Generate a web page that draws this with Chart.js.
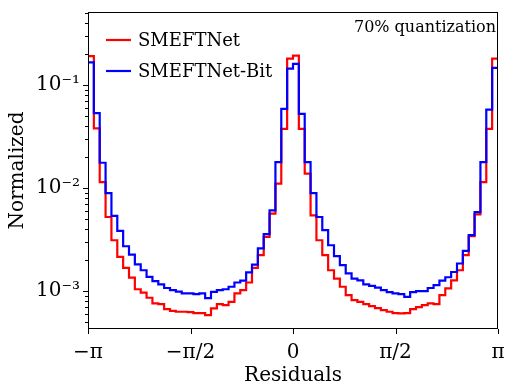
<!DOCTYPE html>
<html><head><meta charset="utf-8">
<script src="https://cdn.jsdelivr.net/npm/chart.js@4.4.1/dist/chart.umd.min.js"></script>
<style>html,body{margin:0;padding:0;background:#fff;overflow:hidden}</style>
</head><body>
<canvas id="c" width="521" height="391"></canvas>
<script>
// ---- data ----
const binCount = 70;
const xMin = -Math.PI, xMax = Math.PI;
const binEdges = Array.from({length: binCount + 1}, (_, i) => xMin + i * (xMax - xMin) / binCount);
const seriesNames = ['SMEFTNet', 'SMEFTNet-Bit'];
const smeftnet = [
  0.190, 0.0378, 0.0114, 0.00523, 0.00311, 0.00214, 0.00168, 0.00135, 0.00104, 0.000965,
  0.000860, 0.000759, 0.000747, 0.000668, 0.000643, 0.000629, 0.000629, 0.000625, 0.000611, 0.000611,
  0.000584, 0.000678, 0.000747, 0.000730, 0.000786, 0.000948, 0.00102, 0.00121, 0.00168, 0.00223,
  0.00335, 0.00564, 0.0110, 0.0375, 0.1797, 0.1921, 0.0375, 0.01375, 0.00543, 0.00311,
  0.00223, 0.00159, 0.00132, 0.00110, 0.000913, 0.000817, 0.000786, 0.000747, 0.000714, 0.000683,
  0.000653, 0.000629, 0.000611, 0.000607, 0.000611, 0.000668, 0.000698, 0.000730, 0.000759, 0.000747,
  0.000913, 0.00106, 0.00127, 0.00159, 0.00223, 0.00340, 0.00555, 0.0114, 0.0375, 0.1797
];
const smeftnetBit = [
  0.1655, 0.0533, 0.01757, 0.00892, 0.00535, 0.00383, 0.00272, 0.00226, 0.00181, 0.00159,
  0.00137, 0.00125, 0.00116, 0.00107, 0.00102, 0.000987, 0.000948, 0.000948, 0.000933, 0.000948,
  0.000854, 0.000982, 0.00102, 0.00104, 0.00110, 0.00121, 0.00126, 0.00152, 0.00180, 0.00259,
  0.00356, 0.00607, 0.01781, 0.0586, 0.1438, 0.1597, 0.0524, 0.01781, 0.00892, 0.00523,
  0.00389, 0.00278, 0.00218, 0.00178, 0.00148, 0.00132, 0.00127, 0.00116, 0.00112, 0.00108,
  0.00102, 0.000975, 0.000948, 0.000933, 0.000879, 0.000975, 0.000998, 0.000998, 0.00107, 0.00114,
  0.00126, 0.00136, 0.00153, 0.00185, 0.00245, 0.00348, 0.00584, 0.01781, 0.0577, 0.1461
];
const xTickValues = [-Math.PI, -Math.PI / 2, 0, Math.PI / 2, Math.PI];
const xTickLabels = ['−π', '−π/2', '0', 'π/2', 'π'];
const yTickValues = [1e-3, 1e-2, 1e-1];
const yTickLabels = ['10⁻³', '10⁻²', '10⁻¹'];
const yMin = 4.28e-4, yMax = 0.51;
const annotationText = '70% quantization';
const xTitle = 'Residuals';
const yTitle = 'Normalized';
const colors = ['#ff0000', '#0000ff'];

const FONT = "'DejaVu Serif', serif";

function toSteps(vals) {
  const pts = vals.map((v, i) => ({x: binEdges[i], y: v}));
  pts.push({x: binEdges[binCount], y: vals[binCount - 1]});
  return pts;
}

const decorPlugin = {
  id: 'decor',
  afterDatasetsDraw(chart) {
    const {ctx, chartArea: a, scales: {x, y}} = chart;
    ctx.save();
    ctx.strokeStyle = '#000';
    ctx.lineWidth = 1;
    ctx.strokeRect(a.left + 0.5, a.top + 0.5, a.right - a.left - 1, a.bottom - a.top - 1);
    ctx.beginPath();
    xTickValues.forEach(v => {
      const px = Math.round(x.getPixelForValue(v)) + 0.5;
      ctx.moveTo(px, a.bottom); ctx.lineTo(px, a.bottom + 5);
    });
    for (let e = -4; e <= 0; e++) {
      for (let m = 1; m <= 9; m++) {
        const v = m * Math.pow(10, e);
        if (v < y.min || v > y.max) continue;
        const py = Math.round(y.getPixelForValue(v)) + 0.5;
        const len = m === 1 ? 5 : 3;
        ctx.moveTo(a.left, py); ctx.lineTo(a.left - len, py);
      }
    }
    ctx.stroke();
    // legend
    const ly = [40, 71];
    ctx.font = '18px ' + FONT;
    ctx.textBaseline = 'middle';
    ctx.fillStyle = '#000';
    seriesNames.forEach((n, i) => {
      ctx.strokeStyle = colors[i];
      ctx.lineWidth = 2.2;
      ctx.beginPath(); ctx.moveTo(a.left + 18, ly[i]); ctx.lineTo(a.left + 43, ly[i]); ctx.stroke();
      ctx.fillText(n, a.left + 50, ly[i] + 1);
    });
    // annotation
    ctx.font = '16px ' + FONT;
    ctx.textAlign = 'right';
    ctx.fillText(annotationText, a.right - 2, 28);
    ctx.restore();
  }
};

new Chart(document.getElementById('c'), {
  type: 'line',
  data: {
    datasets: [
      {label: seriesNames[1], data: toSteps(smeftnetBit), borderColor: colors[1], borderWidth: 2.2, stepped: true, pointRadius: 0, fill: false, order: 0},
      {label: seriesNames[0], data: toSteps(smeftnet), borderColor: colors[0], borderWidth: 2.2, stepped: true, pointRadius: 0, fill: false, order: 1}
    ]
  },
  options: {
    responsive: false,
    devicePixelRatio: 1,
    animation: false,
    layout: {padding: {left: 0, right: 23, top: 12, bottom: 0}},
    plugins: {legend: {display: false}, tooltip: {enabled: false}},
    scales: {
      x: {
        type: 'linear', min: xMin, max: xMax,
        grid: {display: false, drawTicks: false},
        border: {display: false},
        afterBuildTicks: s => { s.ticks = xTickValues.map(v => ({value: v})); },
        afterFit: s => { s.height = 62; s.paddingLeft = 0; s.paddingRight = 0; },
        ticks: {
          autoSkip: false, maxRotation: 0, padding: 12, color: '#000',
          font: {family: FONT, size: 20},
          callback: (v) => { const i = xTickValues.findIndex(t => Math.abs(t - v) < 1e-9); return i >= 0 ? xTickLabels[i] : ''; }
        },
        title: {display: true, text: xTitle, color: '#000', font: {family: FONT, size: 20}, padding: {top: 0, bottom: 3}}
      },
      y: {
        type: 'logarithmic', min: yMin, max: yMax,
        grid: {display: false, drawTicks: false},
        border: {display: false},
        afterBuildTicks: s => { s.ticks = yTickValues.map(v => ({value: v})); },
        afterFit: s => { s.width = 88; s.paddingTop = 0; s.paddingBottom = 0; },
        ticks: {
          autoSkip: false, padding: 8, color: '#000',
          font: {family: FONT, size: 20},
          callback: (v) => { const i = yTickValues.findIndex(t => Math.abs(t - v) / t < 1e-6); return i >= 0 ? yTickLabels[i] : ''; }
        },
        title: {display: true, text: yTitle, color: '#000', font: {family: FONT, size: 20}, padding: {top: 6, bottom: 0}}
      }
    }
  },
  plugins: [decorPlugin]
});
</script>
</body></html>
